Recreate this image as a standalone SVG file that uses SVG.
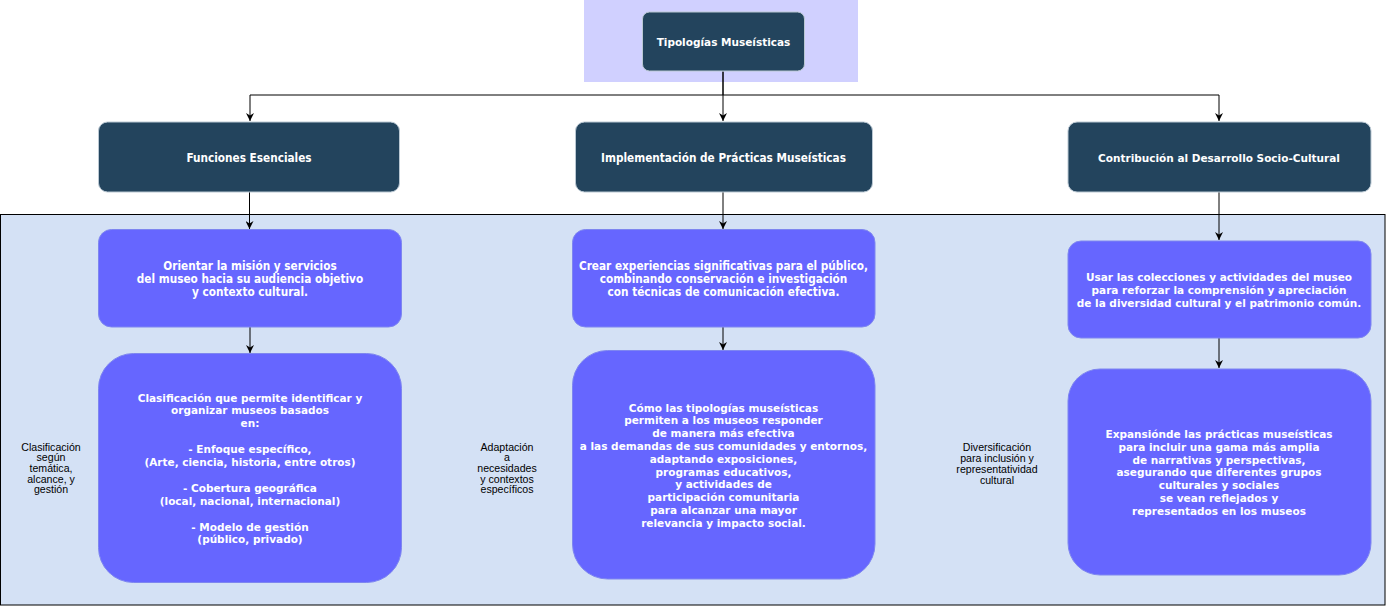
<svg xmlns="http://www.w3.org/2000/svg" width="1386" height="606" viewBox="0 0 1386 606">
<style>
.hdr{fill:#23445D;stroke:#BAC8D3;stroke-width:1}
.box{fill:#6666FF;stroke:#7E86F0;stroke-width:1}
.cond{font-family:'DejaVu Sans Condensed','DejaVu Sans',sans-serif;font-stretch:condensed;font-weight:bold;font-size:11.7px;fill:#FFFFFF;text-anchor:middle}
.ver{font-family:'DejaVu Sans',Verdana,sans-serif;font-weight:bold;font-size:10.5px;fill:#FFFFFF;text-anchor:middle}
.side{font-family:'Liberation Sans',Arial,sans-serif;font-size:10.6px;fill:#000000;text-anchor:middle}
.edge{fill:none;stroke:#000000;stroke-width:1}
</style>
<defs>
<marker id="arr" viewBox="0 0 10 10" refX="10" refY="5" markerWidth="8" markerHeight="8" markerUnits="userSpaceOnUse" orient="auto">
<path d="M0,0 L10,5 L0,10 L3,5 z" fill="#000000"/>
</marker>
</defs>
<rect id="bg-title" x="584" y="0" width="274" height="82" fill="#D0D0FF"/>
<rect id="container" x="0.5" y="214.5" width="1384.5" height="390.5" fill="#D4E1F5" stroke="#000000" stroke-width="1"/>
<g id="connectors">
<path class="edge" d="M723,71.5 V95 H250 V121" marker-end="url(#arr)"/>
<path class="edge" d="M723,71.5 V121" marker-end="url(#arr)"/>
<path class="edge" d="M723,95 H1219 V121" marker-end="url(#arr)"/>
<path class="edge" d="M249.5,192 V229" marker-end="url(#arr)"/>
<path class="edge" d="M723,192 V229" marker-end="url(#arr)"/>
<path class="edge" d="M1219,192 V240" marker-end="url(#arr)"/>
<path class="edge" d="M250,327 V353" marker-end="url(#arr)"/>
<path class="edge" d="M723,327 V350" marker-end="url(#arr)"/>
<path class="edge" d="M1219,338 V368" marker-end="url(#arr)"/>
</g>
<g id="title">
<rect class="hdr" x="642.5" y="12" width="162" height="59" rx="7"/>
<text class="ver" x="723.5" y="46">Tipologías Museísticas</text>
</g>
<g id="funciones">
<rect class="hdr" x="98.5" y="122" width="301" height="70" rx="9"/>
<text class="cond" x="249" y="161.5">Funciones Esenciales</text>
</g>
<g id="implementacion">
<rect class="hdr" x="575.5" y="122" width="297" height="70" rx="9"/>
<text class="cond" x="723.5" y="161.5">Implementación de Prácticas Museísticas</text>
</g>
<g id="contribucion">
<rect class="hdr" x="1068" y="122" width="303" height="70" rx="9"/>
<text class="ver" x="1219" y="161.5">Contribución al Desarrollo Socio-Cultural</text>
</g>
<g id="orientar">
<rect class="box" x="98.5" y="229.5" width="303" height="97.5" rx="13"/>
<text class="cond" x="250" y="270.3"><tspan x="250">Orientar la misión y servicios</tspan><tspan x="250" dy="12.9">del museo hacia su audiencia objetivo</tspan><tspan x="250" dy="12.9">y contexto cultural.</tspan></text>
</g>
<g id="crear">
<rect class="box" x="572.5" y="229.5" width="302.5" height="97.5" rx="13"/>
<text class="cond" x="723.5" y="270.3"><tspan x="723.5">Crear experiencias significativas para el público,</tspan><tspan x="723.5" dy="12.9">combinando conservación e investigación</tspan><tspan x="723.5" dy="12.9">con técnicas de comunicación efectiva.</tspan></text>
</g>
<g id="usar">
<rect class="box" x="1068" y="241" width="303" height="97" rx="13"/>
<text class="ver" x="1219" y="281"><tspan x="1219">Usar las colecciones y actividades del museo</tspan><tspan x="1219" dy="12.9">para reforzar la comprensión y apreciación</tspan><tspan x="1219" dy="12.9">de la diversidad cultural y el patrimonio común.</tspan></text>
</g>
<g id="clasificacion">
<rect class="box" x="98.5" y="353.5" width="303" height="229" rx="35"/>
<text class="ver" x="250" y="401.5"><tspan x="250">Clasificación que permite identificar y</tspan><tspan x="250" dy="12.9">organizar museos basados</tspan><tspan x="250" dy="12.9">en:</tspan><tspan x="250" dy="25.8">- Enfoque específico,</tspan><tspan x="250" dy="12.9">(Arte, ciencia, historia, entre otros)</tspan><tspan x="250" dy="25.8">- Cobertura geográfica</tspan><tspan x="250" dy="12.9">(local, nacional, internacional)</tspan><tspan x="250" dy="25.8">- Modelo de gestión</tspan><tspan x="250" dy="12.9">(público, privado)</tspan></text>
</g>
<g id="como">
<rect class="box" x="572.5" y="350.5" width="302.5" height="228.5" rx="35"/>
<text class="ver" x="723.5" y="411.5"><tspan x="723.5">Cómo las tipologías museísticas</tspan><tspan x="723.5" dy="12.8">permiten a los museos responder</tspan><tspan x="723.5" dy="12.8">de manera más efectiva</tspan><tspan x="723.5" dy="12.8">a las demandas de sus comunidades y entornos,</tspan><tspan x="723.5" dy="12.8">adaptando exposiciones,</tspan><tspan x="723.5" dy="12.8">programas educativos,</tspan><tspan x="723.5" dy="12.8">y actividades de</tspan><tspan x="723.5" dy="12.8">participación comunitaria</tspan><tspan x="723.5" dy="12.8">para alcanzar una mayor</tspan><tspan x="723.5" dy="12.8">relevancia y impacto social.</tspan></text>
</g>
<g id="expansion">
<rect class="box" x="1068" y="369" width="303" height="206" rx="32"/>
<text class="ver" x="1219" y="438"><tspan x="1219">Expansiónde las prácticas museísticas</tspan><tspan x="1219" dy="12.8">para incluir una gama más amplia</tspan><tspan x="1219" dy="12.8">de narrativas y perspectivas,</tspan><tspan x="1219" dy="12.8">asegurando que diferentes grupos</tspan><tspan x="1219" dy="12.8">culturales y sociales</tspan><tspan x="1219" dy="12.8">se vean reflejados y</tspan><tspan x="1219" dy="12.8">representados en los museos</tspan></text>
</g>
<g id="label-clasificacion">
<text class="side" x="51" y="450.5"><tspan x="51">Clasificación</tspan><tspan x="51" dy="10.7">según</tspan><tspan x="51" dy="10.7">temática,</tspan><tspan x="51" dy="10.7">alcance, y</tspan><tspan x="51" dy="10.7">gestión</tspan></text>
</g>
<g id="label-adaptacion">
<text class="side" x="507" y="450.5"><tspan x="507">Adaptación</tspan><tspan x="507" dy="10.7">a</tspan><tspan x="507" dy="10.7">necesidades</tspan><tspan x="507" dy="10.7">y contextos</tspan><tspan x="507" dy="10.7">específicos</tspan></text>
</g>
<g id="label-diversificacion">
<text class="side" x="997" y="450.8"><tspan x="997">Diversificación</tspan><tspan x="997" dy="10.9">para inclusión y</tspan><tspan x="997" dy="10.9">representatividad</tspan><tspan x="997" dy="10.9">cultural</tspan></text>
</g>
</svg>
